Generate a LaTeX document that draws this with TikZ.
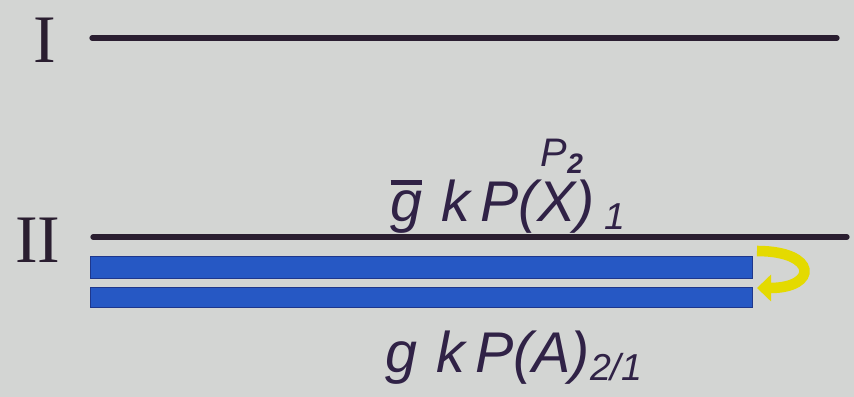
\documentclass[tikz,border=0pt]{standalone}
\usepackage{fontspec}
\setmainfont{Liberation Sans}
\newfontfamily\numfont{Liberation Serif}
\usetikzlibrary{arrows.meta, positioning}
\definecolor{boardgray}{RGB}{211,213,211}
\definecolor{inkdark}{RGB}{42,30,48}
\definecolor{inkpurple}{RGB}{48,34,70}
\definecolor{barblue}{RGB}{38,88,196}
\definecolor{bardark}{RGB}{30,55,140}
\definecolor{markyellow}{RGB}{228,218,0}
\newcommand{\gbar}{\rlap{\raisebox{0.64em}{\rule{0.55em}{0.09em}}}g}
\tikzset{
  roman/.style={font=\numfont\fontsize{58}{58}\selectfont, text=inkdark, inner sep=0pt},
  formula/.style={font=\fontsize{49}{49}\selectfont\itshape, text=inkpurple, inner sep=0pt},
  smallformula/.style={font=\fontsize{34}{34}\selectfont\itshape, text=inkpurple, inner sep=0pt},
  level/.style={line width=4.5pt, color=inkdark, line cap=round},
  bar/.style={fill=barblue, draw=bardark, line width=0.6pt},
  turn/.style={line width=9pt, color=markyellow,
    -{Triangle[length=0.42cm 0, width=0.78cm 0]}}
}
\begin{document}
\begin{tikzpicture}[x=0.03cm, y=-0.03cm]
  \fill[boardgray] (0,0) rectangle (854,397);
  \useasboundingbox (0,0) rectangle (854,397);
  % level I
  \node[roman] (labI) at (45,40) {I};
  \coordinate (iL) at (92,38);
  \coordinate (iR) at (837,38);
  \draw[level] (iL) -- (iR);
  % level II
  \node[roman] (labII) at (38,240) {II};
  \coordinate (iiL) at (93,237);
  \coordinate (iiR) at (847,237);
  \draw[level] (iiL) -- (iiR);
  % blue bars
  \draw[bar] (90,256) rectangle (752,278);
  \draw[bar] (90,287) rectangle (752,307);
  % yellow turn arrow
  \coordinate (tstart) at (757,251);
  \coordinate (tend) at (757,288);
  \draw[turn] (tstart) .. controls (818,251) and (818,288) .. (tend);
  % labels
  \node[formula, anchor=base] (upper) at (508,222)
    {\gbar\,\,k\,P(X)\,\raisebox{-0.25ex}{\fontsize{32}{32}\selectfont 1}};
  \node[smallformula] (ptwo) at (562,156)
    {P\raisebox{-0.35ex}{\fontsize{24}{24}\selectfont\bfseries 2}};
  \node[formula, anchor=base] (lower) at (514,373)
    {g\,\,k\,P(A)\raisebox{-0.25ex}{\fontsize{32}{32}\selectfont 2/1}};
\end{tikzpicture}
\end{document}
